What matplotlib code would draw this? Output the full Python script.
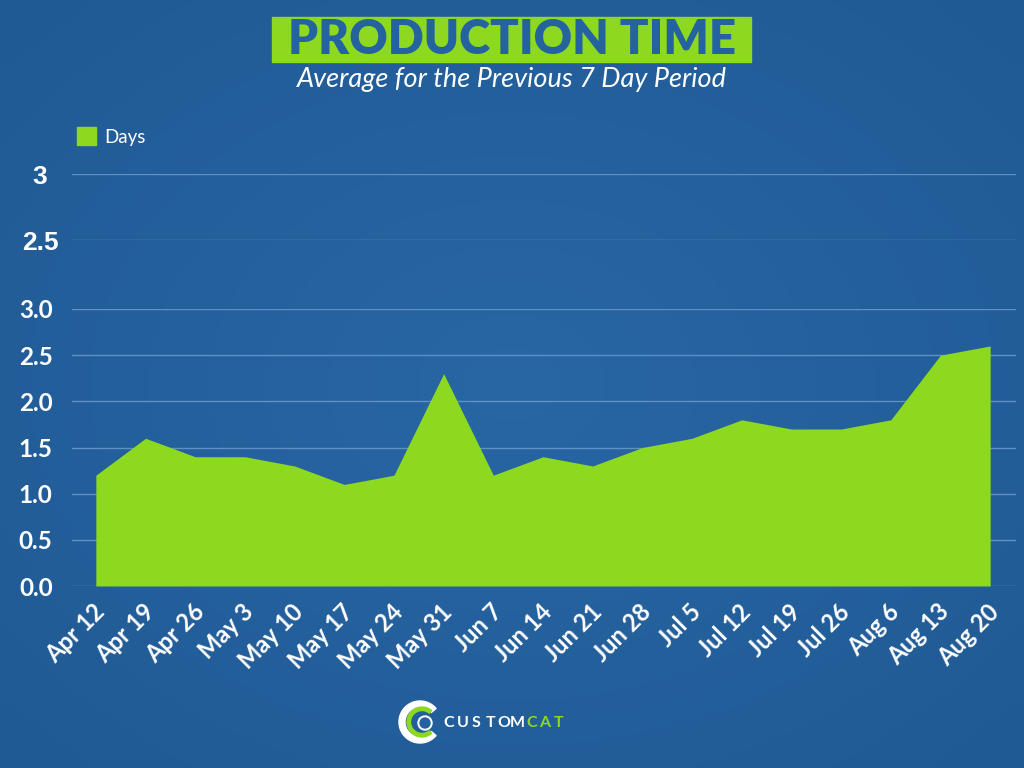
import numpy as np
import matplotlib.pyplot as plt
from matplotlib.patches import Wedge, Circle, Rectangle
from matplotlib.transforms import ScaledTranslation

plt.rcParams['font.family'] = ['Lato', 'DejaVu Sans']

# weekly averages (days)
weeks = ['Apr 12', 'Apr 19', 'Apr 26', 'May 3', 'May 10', 'May 17', 'May 24',
         'May 31', 'Jun 7', 'Jun 14', 'Jun 21', 'Jun 28', 'Jul 5', 'Jul 12',
         'Jul 19', 'Jul 26', 'Aug 6', 'Aug 13', 'Aug 20']
days = [1.2, 1.6, 1.4, 1.4, 1.3, 1.1, 1.2, 2.3, 1.2, 1.4, 1.3, 1.5, 1.6, 1.8,
        1.7, 1.7, 1.8, 2.5, 2.6]
yticks = [0.0, 0.5, 1.0, 1.5, 2.0, 2.5, 3.0]
top_ticks = [2.5, 3]

bg = '#2562a0'
green = '#8cd920'
grid = '#5f90c8'

fig = plt.figure(figsize=(10.24, 7.68), dpi=100)

# background with a soft lighter centre
axbg = fig.add_axes([0, 0, 1, 1], zorder=-5)
yy, xx = np.mgrid[-1:1:200j, -1:1:200j]
r = np.sqrt(xx**2 + yy**2)
axbg.imshow(-r, cmap=plt.matplotlib.colors.LinearSegmentedColormap.from_list(
    'b', ['#205a94', '#2866a4']), extent=[0, 1, 0, 1], aspect='auto')
axbg.set_xlim(0, 1)
axbg.set_ylim(0, 1)
axbg.axis('off')

# main area chart
ax = fig.add_axes([72/1024, 1 - 586/768, 944/1024, 277/768])
ax.set_facecolor('none')
x = np.arange(len(weeks))
ax.fill_between(x, days, 0, color=green, linewidth=0, zorder=3)
ax.set_xlim(-0.48, len(weeks) - 0.48)
ax.set_ylim(0, 3.0)
ax.set_yticks(yticks)
ax.set_yticklabels(['%.1f' % v for v in yticks])
ax.set_xticks(x)
ax.set_xticklabels(weeks, rotation=45, ha='right', va='top', rotation_mode='anchor')
ax.tick_params(axis='y', length=0, colors='white', labelsize=17.5, pad=14)
ax.tick_params(axis='x', length=0, colors='white', labelsize=17, pad=10)
for lab in ax.get_xticklabels() + ax.get_yticklabels():
    lab.set_fontweight('bold')
off = ScaledTranslation(-3/100, 0, fig.dpi_scale_trans)
for lab in ax.get_xticklabels():
    lab.set_transform(lab.get_transform() + off)
ax.grid(axis='y', color=grid, linewidth=1)
ax.set_axisbelow(True)
for s in ax.spines.values():
    s.set_visible(False)

# stray upper scale
ax2 = fig.add_axes([72/1024, 1 - 240/768, 944/1024, 66/768])
ax2.set_facecolor('none')
ax2.set_xlim(0, 1)
ax2.set_ylim(2.5, 3)
ax2.set_xticks([])
ax2.set_yticks(top_ticks)
ax2.set_yticklabels([str(v) for v in top_ticks], ha='center',
                    family='Liberation Sans', fontweight='bold')
ax2.tick_params(axis='y', length=0, colors='white', labelsize=19, pad=23)
ax2.grid(axis='y', color=grid, linewidth=1)
for s in ax2.spines.values():
    s.set_visible(False)

# legend
fig.patches.append(Rectangle((77/1024, 1 - 145/768), 19/1024, 18/768,
                             transform=fig.transFigure, color=green))
fig.text(104/1024, 1 - 137/768, 'Days', color='white', fontsize=13.5, va='center')

# title block
fig.patches.append(Rectangle((272/1024, 1 - 62/768), 479/1024, 45/768,
                             transform=fig.transFigure, color=green))
fig.text(512/1024, 1 - 40/768, 'PRODUCTION TIME', color='#2562a0', fontsize=34,
         fontweight='heavy', ha='center', va='center')
fig.text(512/1024, 1 - 79/768, 'Average for the Previous 7 Day Period',
         color='white', fontsize=19.5, style='italic', ha='center', va='center')

# logo
axl = fig.add_axes([390/1024, 1 - 750/768, 60/1024, 56/768])
axl.set_xlim(-30, 30)
axl.set_ylim(-28, 28)
axl.set_aspect('equal')
axl.axis('off')
axl.add_patch(Wedge((0, 0), 21, 40, 320, width=6, color='white'))
axl.add_patch(Wedge((2, 0), 15, 50, 310, width=3.5, color=green))
axl.add_patch(Circle((5, -1), 7, color='white'))
axl.add_patch(Circle((5, -1), 5, color=bg))
letters = 'CUSTOMCAT'
for i, ch in enumerate(letters):
    fig.text((449 + i * 13.7) / 1024, 1 - 723/768, ch, fontsize=11.5,
             fontweight='bold', color='white' if i < 6 else green,
             ha='center', va='center')

fig.savefig('out.png', dpi=100)
